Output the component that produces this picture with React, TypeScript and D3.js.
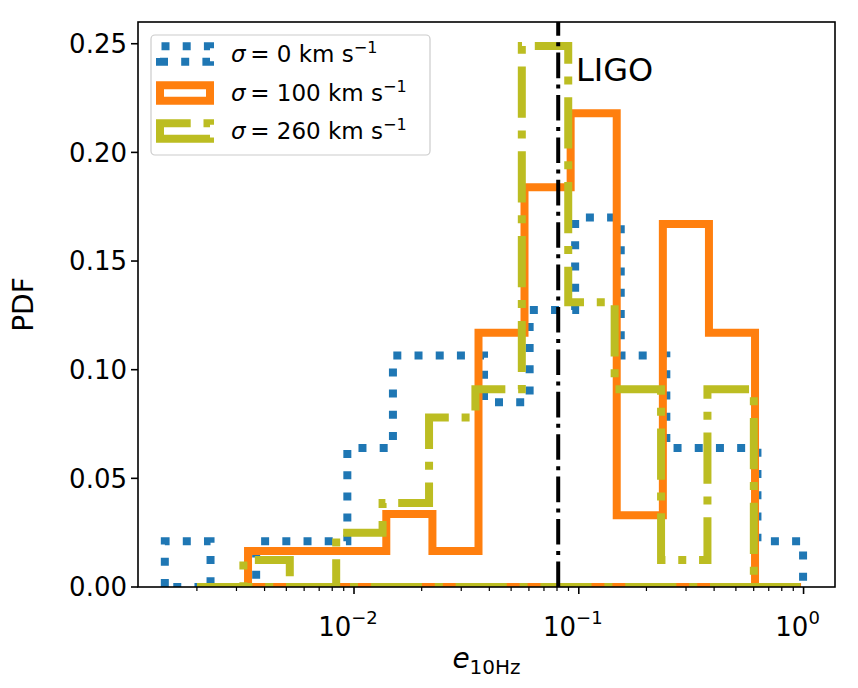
import React from 'react';
import * as d3 from 'd3';

// Histogram bin edges (e_10Hz) and PDF heights
const blueEdges = [0.00144, 0.0023, 0.00367, 0.00585, 0.00934, 0.0149, 0.02374, 0.03788, 0.06044, 0.09634, 0.1537, 0.2452, 0.3913, 0.6235, 0.995];
const blueVals = [0.021, 0, 0.021, 0.021, 0.064, 0.1065, 0.1065, 0.085, 0.1275, 0.17, 0.1065, 0.064, 0.064, 0.021];

const orangeEdges = [0.003377, 0.005413, 0.008683, 0.01392, 0.02233, 0.0358, 0.05735, 0.092, 0.1475, 0.2366, 0.3794, 0.6083, 0.9747];
const orangeVals = [0.0166, 0.0166, 0.0166, 0.0336, 0.0166, 0.117, 0.184, 0.218, 0.033, 0.167, 0.117, 0];

const greenEdges = [0.002002, 0.00322, 0.00518, 0.008332, 0.0134, 0.02157, 0.03468, 0.05579, 0.08976, 0.1444, 0.2323, 0.3736, 0.6009, 0.9667];
const greenVals = [0, 0.0124, 0, 0.025, 0.0387, 0.078, 0.091, 0.249, 0.131, 0.091, 0.0124, 0.091, 0];

const ligoE = 0.081;

const yTicks = [0, 0.05, 0.1, 0.15, 0.2, 0.25];
const xMajor = [0.01, 0.1, 1];
const xMajorExp = ['\u22122', '\u22121', '0'];

const legendLabels = ['0', '100', '260'];

const W = 858;
const H = 688;
const L = 138, R = 835, T = 22, B = 587;
const FONT = '"DejaVu Sans", sans-serif';

const series = [
  { edges: blueEdges, vals: blueVals, color: '#1f77b4', width: 8, dash: '8 13.2' },
  { edges: orangeEdges, vals: orangeVals, color: '#ff7f0e', width: 8, dash: undefined },
  { edges: greenEdges, vals: greenVals, color: '#bcbd22', width: 8, dash: '51.2 12.8 8 12.8' },
];

export default function App() {
  const x = d3.scaleLog().domain([0.001094, 1.38]).range([L, R]);
  const y = d3.scaleLinear().domain([0, 0.26]).range([B, T]);

  // matplotlib-style closed step outline: along the tops, then back on the baseline
  const stepPath = (edges: number[], vals: number[]) => {
    const pts: [number, number][] = [[edges[0], 0]];
    vals.forEach((v, i) => {
      pts.push([edges[i], v]);
      pts.push([edges[i + 1], v]);
    });
    pts.push([edges[edges.length - 1], 0]);
    for (let i = edges.length - 2; i >= 0; i--) pts.push([edges[i], 0]);
    const line = d3.line<[number, number]>().x(d => x(d[0])).y(d => y(d[1]));
    return line(pts) + 'Z';
  };

  const minor = x.ticks().filter(t => !xMajor.some(m => Math.abs(m - t) / m < 1e-6));

  const rowY = [54, 93, 131];
  const hx = 160, hw = 50, hh = 15.5;

  return (
    <svg width={W} height={H} style={{ display: 'block', position: 'absolute', left: 0, top: 0, background: '#fff' }} fontFamily={FONT}>
      <rect width={W} height={H} fill="#fff" />
      <defs>
        <clipPath id="ax">
          <rect x={L} y={T} width={R - L} height={B - T} />
        </clipPath>
      </defs>

      <g clipPath="url(#ax)">
        {series.map((s, i) => (
          <path key={i} d={stepPath(s.edges, s.vals)} fill="none" stroke={s.color}
            strokeWidth={s.width} strokeDasharray={s.dash} strokeLinejoin="miter" strokeLinecap="butt" />
        ))}
        <line x1={x(ligoE)} x2={x(ligoE)} y1={B} y2={T} stroke="#000" strokeWidth={4}
          strokeDasharray="25.6 6.4 4 6.4" />
      </g>

      <text x={576} y={81} fontSize={32} fill="#000">LIGO</text>

      {/* spines */}
      <rect x={L} y={T} width={R - L} height={B - T} fill="none" stroke="#000" strokeWidth={1.6} />

      {/* y axis */}
      {yTicks.map(t => (
        <g key={t}>
          <line x1={L - 7} x2={L} y1={y(t)} y2={y(t)} stroke="#000" strokeWidth={1.6} />
          <text x={L - 11} y={y(t)} dy="0.36em" textAnchor="end" fontSize={26}>{t.toFixed(2)}</text>
        </g>
      ))}
      <text transform={`translate(33,${(T + B) / 2}) rotate(-90)`} textAnchor="middle" fontSize={28}>PDF</text>

      {/* x axis */}
      {minor.map((t, i) => (
        <line key={'m' + i} x1={x(t)} x2={x(t)} y1={B} y2={B + 4} stroke="#000" strokeWidth={1.2} />
      ))}
      {xMajor.map((t, i) => (
        <g key={t}>
          <line x1={x(t)} x2={x(t)} y1={B} y2={B + 7} stroke="#000" strokeWidth={1.6} />
          <text x={x(t) - 6} y={B + 49} textAnchor="middle" fontSize={26}>
            10<tspan dy={-12} fontSize={18}>{xMajorExp[i]}</tspan>
          </text>
        </g>
      ))}
      <text x={(L + R) / 2} y={668} textAnchor="middle" fontSize={28}>
        <tspan fontStyle="italic">e</tspan>
        <tspan dy={6} fontSize={20}>10Hz</tspan>
      </text>

      {/* legend */}
      <rect x={151} y={35} width={279} height={120} rx={4} fill="#fff" fillOpacity={0.8} stroke="#cccccc" strokeWidth={1.2} />
      {series.map((s, i) => {
        const cy = rowY[i];
        const x0 = hx, x1 = hx + hw, y0 = cy + hh / 2, y1 = cy - hh / 2;
        return (
          <g key={'lg' + i}>
            <path d={`M${x0},${y0}L${x1},${y0}L${x1},${y1}L${x0},${y1}Z`} fill="none" stroke={s.color}
              strokeWidth={s.width} strokeDasharray={s.dash} strokeLinejoin="miter" />
            <text x={231} y={cy} dy="0.36em" fontSize={23}>
              <tspan fontStyle="italic">σ</tspan>
              <tspan>{'\u2009= '}{legendLabels[i]} km s</tspan>
              <tspan dy={-9} fontSize={16}>−1</tspan>
            </text>
          </g>
        );
      })}
    </svg>
  );
}
